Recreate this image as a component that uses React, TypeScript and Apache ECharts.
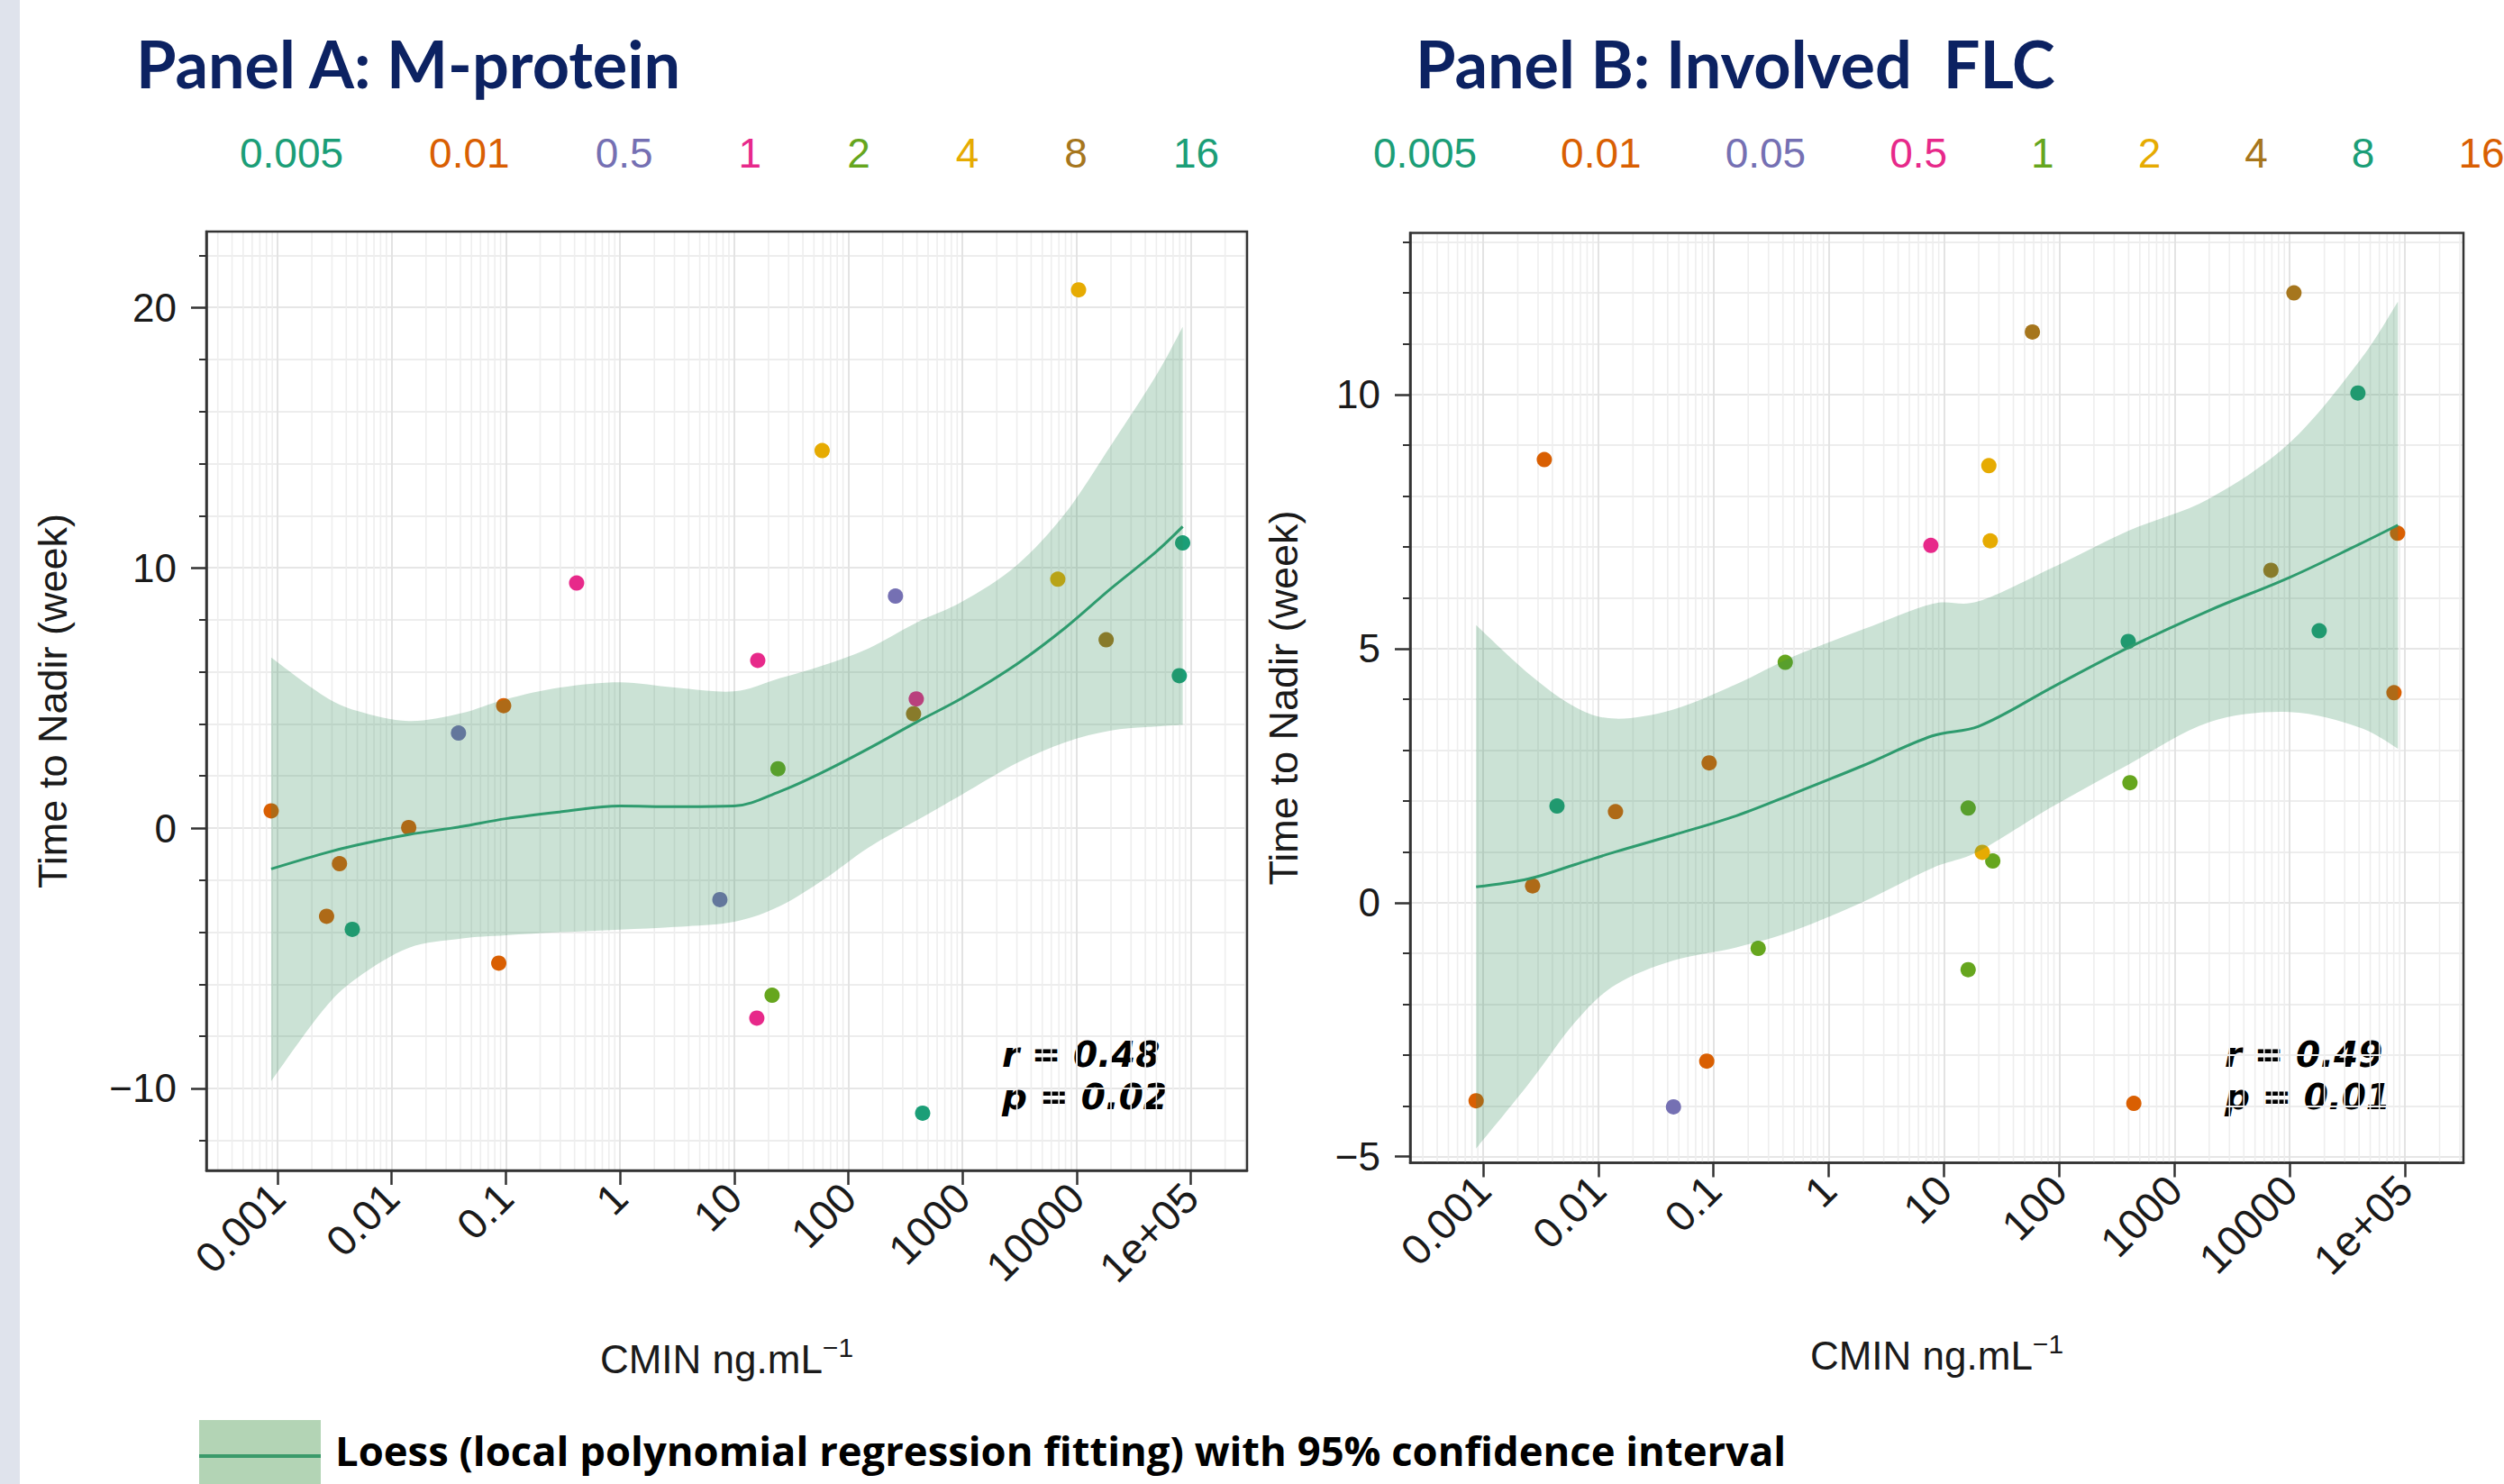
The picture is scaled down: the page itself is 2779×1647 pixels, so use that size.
import React, { useEffect, useRef } from 'react';
import * as echarts from 'echarts';

const W = 2779;
const H = 1647;
const FONT = 'Liberation Sans';
const TITLE_FONT = 'Lato';
const NOTE_FONT = 'Open Sans';
const STAT_FONT = 'DejaVu Sans';

const TEAL = '#1B9E77';
const ORANGE = '#D95F02';
const PURPLE = '#7570B3';
const PINK = '#E7298A';
const GREEN = '#66A61E';
const YELLOW = '#E6AB02';
const BROWN = '#A6761D';
const NAVY = '#0C2262';
const BAND_FILL = 'rgba(46,139,87,0.25)';
const LOESS_LINE = '#2E9B6E';
const TEXT = '#1a1a1a';
const AXIS = '#333333';

// shared x-axis ticks (CMIN, log scale)
const xTickValues = [0.001, 0.01, 0.1, 1, 10, 100, 1000, 10000, 100000];
const xTickLabels = ['0.001', '0.01', '0.1', '1', '10', '100', '1000', '10000', '1e+05'];

// ---------------- Panel A: M-protein ----------------
const groupsA = ['0.005', '0.01', '0.5', '1', '2', '4', '8', '16'];
const colorsA = [TEAL, ORANGE, PURPLE, PINK, GREEN, YELLOW, BROWN, TEAL];
const cminA = [
  [0.00452],
  [0.00088, 0.00269, 0.00349, 0.0141, 0.0867, 0.0957],
  [0.0385, 7.5, 259],
  [0.417, 15.8, 16.1, 394],
  [21.5, 24.2],
  [59, 6840, 10400],
  [373, 18150],
  [448, 79400, 84900],
];
const nadirA = [
  [-3.89],
  [0.66, -3.39, -1.37, 0.02, -5.19, 4.7],
  [3.65, -2.75, 8.91],
  [9.41, -7.3, 6.44, 4.96],
  [-6.42, 2.28],
  [14.5, 9.56, 20.67],
  [4.39, 7.23],
  [-10.95, 5.85, 10.95],
];
const loessXA = [0.00088, 0.0025, 0.005, 0.0141, 0.04, 0.1, 0.3, 1, 3, 10, 25, 60, 150, 400, 1000, 3000, 8000, 20000, 50000, 85000];
const loessFitA = [-1.57, -0.98, -0.65, -0.25, 0.05, 0.36, 0.62, 0.85, 0.82, 0.85, 1.4, 2.15, 3.05, 4.08, 5.0, 6.3, 7.7, 9.2, 10.62, 11.58];
const loessHighA = [6.55, 5.1, 4.5, 4.11, 4.4, 4.95, 5.4, 5.6, 5.4, 5.25, 5.75, 6.25, 6.9, 7.9, 8.7, 10.1, 12.1, 14.7, 17.4, 19.25];
const loessLowA = [-9.72, -7.0, -5.75, -4.6, -4.25, -4.12, -4.0, -3.9, -3.8, -3.6, -3.0, -2.0, -0.75, 0.3, 1.3, 2.5, 3.3, 3.75, 3.9, 3.96];
const yLabelsA = [-10, 0, 10, 20];

// ---------------- Panel B: Involved FLC ----------------
const groupsB = ['0.005', '0.01', '0.05', '0.5', '1', '2', '4', '8', '16'];
const colorsB = [TEAL, ORANGE, PURPLE, PINK, GREEN, YELLOW, BROWN, TEAL, ORANGE];
const cminB = [
  [0.00438],
  [0.00087, 0.00269, 0.0034, 0.0141, 0.0873, 0.0916],
  [0.0449],
  [7.69],
  [0.244, 0.419, 16.2, 16.2, 26.5, 411],
  [21.5, 24.5, 25.2],
  [58.5, 6870, 10890],
  [397, 18030, 39100],
  [444, 80400, 86300],
];
const nadirB = [
  [1.9],
  [-3.9, 0.33, 8.72, 1.79, -3.12, 2.75],
  [-4.02],
  [7.03],
  [-0.9, 4.73, 1.86, -1.32, 0.82, 2.36],
  [0.99, 8.6, 7.12],
  [11.23, 6.54, 12.0],
  [5.14, 5.35, 10.03],
  [-3.95, 4.13, 7.27],
];
const loessXB = [0.00087, 0.0025, 0.0063, 0.0141, 0.0447, 0.158, 0.5, 2, 7.9, 20, 89, 400, 2000, 10000, 40000, 87000];
const loessFitB = [0.31, 0.47, 0.75, 1.0, 1.33, 1.71, 2.15, 2.7, 3.28, 3.47, 4.25, 5.02, 5.75, 6.4, 7.05, 7.43];
const loessHighB = [5.46, 4.5, 3.85, 3.62, 3.8, 4.3, 4.85, 5.38, 5.88, 5.93, 6.6, 7.32, 7.95, 9.05, 10.65, 11.83];
const loessLowB = [-4.84, -3.56, -2.35, -1.62, -1.14, -0.88, -0.55, 0.02, 0.68, 1.01, 1.9, 2.72, 3.55, 3.75, 3.45, 3.03];
const yLabelsB = [-5, 0, 5, 10];

// statistics shown in each panel
const statsA = ['r = 0.48', 'p = 0.02'];
const statsB = ['r = 0.49', 'p = 0.01'];

// axis ranges
const X_MIN_A = Math.pow(10, -3.6235);
const X_MAX_A = Math.pow(10, 5.493);
const Y_MIN_A = -13.15;
const Y_MAX_A = 22.91;
const X_MIN_B = Math.pow(10, -3.633);
const X_MAX_B = Math.pow(10, 5.508);
const Y_MIN_B = -5.12;
const Y_MAX_B = 13.18;

function minorBreaks(lo: number, hi: number): number[] {
  const out: number[] = [];
  for (let d = -5; d <= 6; d++) {
    for (let m = 2; m <= 9; m++) {
      const v = m * Math.pow(10, d);
      if (v > lo && v < hi) out.push(v);
    }
  }
  return out;
}

function smoothSegs(pts: number[][]): string {
  let d = '';
  for (let i = 0; i < pts.length - 1; i++) {
    const p0 = pts[Math.max(i - 1, 0)];
    const p1 = pts[i];
    const p2 = pts[i + 1];
    const p3 = pts[Math.min(i + 2, pts.length - 1)];
    const c1x = p1[0] + (p2[0] - p0[0]) / 6;
    const c1y = p1[1] + (p2[1] - p0[1]) / 6;
    const c2x = p2[0] - (p3[0] - p1[0]) / 6;
    const c2y = p2[1] - (p3[1] - p1[1]) / 6;
    d += ` C ${c1x} ${c1y} ${c2x} ${c2y} ${p2[0]} ${p2[1]}`;
  }
  return d;
}

function xLabel(v: number): string {
  const i = xTickValues.findIndex((t) => Math.abs(Math.log10(t) - Math.log10(v)) < 1e-6);
  return i >= 0 ? xTickLabels[i] : '';
}

function yLabel(v: number): string {
  return v < 0 ? '\u2212' + Math.abs(v) : String(v);
}

function xAxisCfg(gridIndex: number, min: number, max: number, nameGap: number) {
  return {
    type: 'log',
    logBase: 10,
    gridIndex,
    min,
    max,
    name: '{a|CMIN ng.mL}{b|\u22121}',
    nameLocation: 'middle',
    nameGap,
    nameMoveOverlap: false,
    nameTextStyle: {
      rich: {
        a: { fontFamily: FONT, fontSize: 44, color: TEXT, lineHeight: 56 },
        b: { fontFamily: FONT, fontSize: 30, color: TEXT, lineHeight: 24, verticalAlign: 'top' },
      },
    },
    axisLine: { show: true, onZero: false, lineStyle: { color: AXIS, width: 2.5 } },
    axisTick: { show: true, length: 16, lineStyle: { color: AXIS, width: 2.5 }, customValues: xTickValues },
    axisLabel: {
      rotate: 45,
      margin: 22,
      fontFamily: FONT,
      fontSize: 47,
      color: TEXT,
      customValues: xTickValues,
      formatter: xLabel,
    },
    splitLine: { show: true, lineStyle: { color: '#E3E3E3', width: 2 } },
    minorTick: { show: false },
    minorSplitLine: { show: false },
  };
}

function yAxisCfg(gridIndex: number, min: number, max: number, minorSplit: number, labels: number[], nameGap: number) {
  return {
    type: 'value',
    gridIndex,
    min,
    max,
    splitNumber: 4,
    name: 'Time to Nadir (week)',
    nameLocation: 'middle',
    nameGap,
    nameMoveOverlap: false,
    nameTextStyle: { fontFamily: FONT, fontSize: 45, color: TEXT },
    axisLine: { show: true, onZero: false, lineStyle: { color: AXIS, width: 2.5 } },
    axisTick: { show: true, length: 17, lineStyle: { color: AXIS, width: 2.5 }, customValues: labels },
    minorTick: { show: true, splitNumber: minorSplit, length: 8, lineStyle: { color: AXIS, width: 2 } },
    axisLabel: {
      margin: 33,
      fontFamily: FONT,
      fontSize: 44,
      color: TEXT,
      customValues: labels,
      formatter: yLabel,
    },
    splitLine: { show: true, lineStyle: { color: '#E6E6E6', width: 2 } },
    minorSplitLine: { show: true, lineStyle: { color: '#EDEDED', width: 2 } },
  };
}

function panelSeries(
  prefix: string,
  idx: number,
  groups: string[],
  colors: string[],
  xs: number[][],
  ys: number[][],
  lx: number[],
  fit: number[],
  lo: number[],
  hi: number[],
  xMin: number,
  xMax: number,
  yMin: number,
  yMax: number
) {
  const series: any[] = [];
  // minor log gridlines (2..9 x 10^k)
  series.push({
    type: 'custom',
    name: prefix + 'minorgrid',
    xAxisIndex: idx,
    yAxisIndex: idx,
    silent: true,
    z: 1,
    data: minorBreaks(xMin, xMax).map((v) => [v, 0]),
    encode: { x: 0, y: 1 },
    renderItem: (params: any, api: any) => {
      const v = api.value(0);
      const p1 = api.coord([v, yMin]);
      const p2 = api.coord([v, yMax]);
      return {
        type: 'line',
        shape: { x1: p1[0], y1: p1[1], x2: p2[0], y2: p2[1] },
        style: { stroke: '#EEEEEE', lineWidth: 1.6 },
      };
    },
  });
  groups.forEach((g, i) => {
    series.push({
      type: 'scatter',
      name: prefix + g,
      xAxisIndex: idx,
      yAxisIndex: idx,
      data: xs[i].map((x, j) => [x, ys[i][j]]),
      symbol: 'circle',
      symbolSize: 17,
      itemStyle: { color: colors[i], opacity: 1 },
      silent: true,
      z: 2,
    });
  });
  // 95% confidence band
  series.push({
    type: 'custom',
    name: prefix + 'band',
    xAxisIndex: idx,
    yAxisIndex: idx,
    silent: true,
    z: 3,
    data: lx.map((x, i) => [x, lo[i], hi[i]]),
    encode: { x: 0, y: [1, 2] },
    renderItem: (params: any, api: any) => {
      if (params.dataIndex !== 0) return null;
      const up = lx.map((x, i) => api.coord([x, hi[i]]));
      const dn = lx.map((x, i) => api.coord([x, lo[i]])).reverse();
      const d =
        `M ${up[0][0]} ${up[0][1]}` +
        smoothSegs(up) +
        ` L ${dn[0][0]} ${dn[0][1]}` +
        smoothSegs(dn) +
        ' Z';
      return { type: 'path', shape: { pathData: d }, style: { fill: BAND_FILL } };
    },
  });
  // loess fit
  series.push({
    type: 'line',
    name: prefix + 'loess',
    xAxisIndex: idx,
    yAxisIndex: idx,
    data: lx.map((x, i) => [x, fit[i]]),
    smooth: 0.35,
    showSymbol: false,
    symbol: 'none',
    lineStyle: { color: LOESS_LINE, width: 3 },
    silent: true,
    z: 4,
  });
  return series;
}

function legendCfg(prefix: string, groups: string[], colors: string[], left: number, gap: number) {
  return {
    show: true,
    orient: 'horizontal',
    left,
    top: 147,
    width: 1400,
    padding: 0,
    itemGap: gap,
    itemWidth: 0,
    itemHeight: 0,
    selectedMode: false,
    formatter: (n: string) => n.slice(prefix.length),
    textStyle: { fontFamily: FONT, fontSize: 46 },
    data: groups.map((g, i) => ({ name: prefix + g, textStyle: { color: colors[i], fontFamily: FONT, fontSize: 46 } })),
  };
}

function statText(text: string, x: number, y: number) {
  return {
    type: 'text',
    silent: true,
    x,
    y,
    style: {
      text,
      fill: '#000',
      fontFamily: STAT_FONT,
      fontWeight: 'bold',
      fontStyle: 'italic',
      fontSize: 39,
      verticalAlign: 'middle',
    },
  };
}

function buildOption(): any {
  return {
    animation: false,
    backgroundColor: '#ffffff',
    title: [
      {
        text: 'Panel A: M-protein',
        left: 151,
        top: 34,
        padding: 0,
        textStyle: { fontFamily: TITLE_FONT, fontWeight: 'bold', fontSize: 72, color: NAVY },
      },
      {
        text: 'Panel B: Involved\u00A0\u00A0FLC',
        left: 1571,
        top: 34,
        padding: 0,
        textStyle: { fontFamily: TITLE_FONT, fontWeight: 'bold', fontSize: 72, color: NAVY },
      },
    ],
    legend: [legendCfg('A:', groupsA, colorsA, 261, 90), legendCfg('B:', groupsB, colorsB, 1519, 88)],
    grid: [
      {
        left: 229,
        top: 257,
        width: 1155,
        height: 1042,
        show: true,
        z: 5,
        backgroundColor: 'transparent',
        borderColor: AXIS,
        borderWidth: 2.5,
        containLabel: false,
        outerBoundsMode: 'none',
      },
      {
        left: 1565,
        top: 258.5,
        width: 1169,
        height: 1032,
        show: true,
        z: 5,
        backgroundColor: 'transparent',
        borderColor: AXIS,
        borderWidth: 2.5,
        containLabel: false,
        outerBoundsMode: 'none',
      },
    ],
    xAxis: [xAxisCfg(0, X_MIN_A, X_MAX_A, 181), xAxisCfg(1, X_MIN_B, X_MAX_B, 186)],
    yAxis: [yAxisCfg(0, Y_MIN_A, Y_MAX_A, 5, yLabelsA, 148), yAxisCfg(1, Y_MIN_B, Y_MAX_B, 5, yLabelsB, 118)],
    series: [
      ...panelSeries('A:', 0, groupsA, colorsA, cminA, nadirA, loessXA, loessFitA, loessLowA, loessHighA, X_MIN_A, X_MAX_A, Y_MIN_A, Y_MAX_A),
      ...panelSeries('B:', 1, groupsB, colorsB, cminB, nadirB, loessXB, loessFitB, loessLowB, loessHighB, X_MIN_B, X_MAX_B, Y_MIN_B, Y_MAX_B),
    ],
    graphic: [
      { type: 'rect', silent: true, shape: { x: 0, y: 0, width: 22, height: H }, style: { fill: '#DFE3EC' } },
      statText(statsA[0], 1112, 1170),
      statText(statsA[1], 1112, 1217),
      statText(statsB[0], 2469, 1170),
      statText(statsB[1], 2469, 1217),
      { type: 'rect', silent: true, shape: { x: 221, y: 1576, width: 135, height: 80 }, style: { fill: '#B3D4B5' } },
      { type: 'line', silent: true, shape: { x1: 221, y1: 1616, x2: 356, y2: 1616 }, style: { stroke: '#3A9A6A', lineWidth: 4 } },
      {
        type: 'text',
        silent: true,
        x: 372,
        y: 1609,
        style: {
          text: 'Loess (local polynomial regression fitting) with 95% confidence interval',
          fill: '#000',
          fontFamily: NOTE_FONT,
          fontWeight: 'bold',
          fontSize: 45.4,
          verticalAlign: 'middle',
        },
      },
    ],
  };
}

export default function App() {
  const ref = useRef<HTMLDivElement>(null);
  useEffect(() => {
    if (!ref.current) return;
    const chart = echarts.init(ref.current, null, { renderer: 'svg', width: W, height: H });
    chart.setOption(buildOption());
    return () => {
      chart.dispose();
    };
  }, []);
  return (
    <div
      ref={ref}
      style={{ position: 'absolute', left: 0, top: 0, width: W, height: H, background: '#ffffff' }}
    />
  );
}
